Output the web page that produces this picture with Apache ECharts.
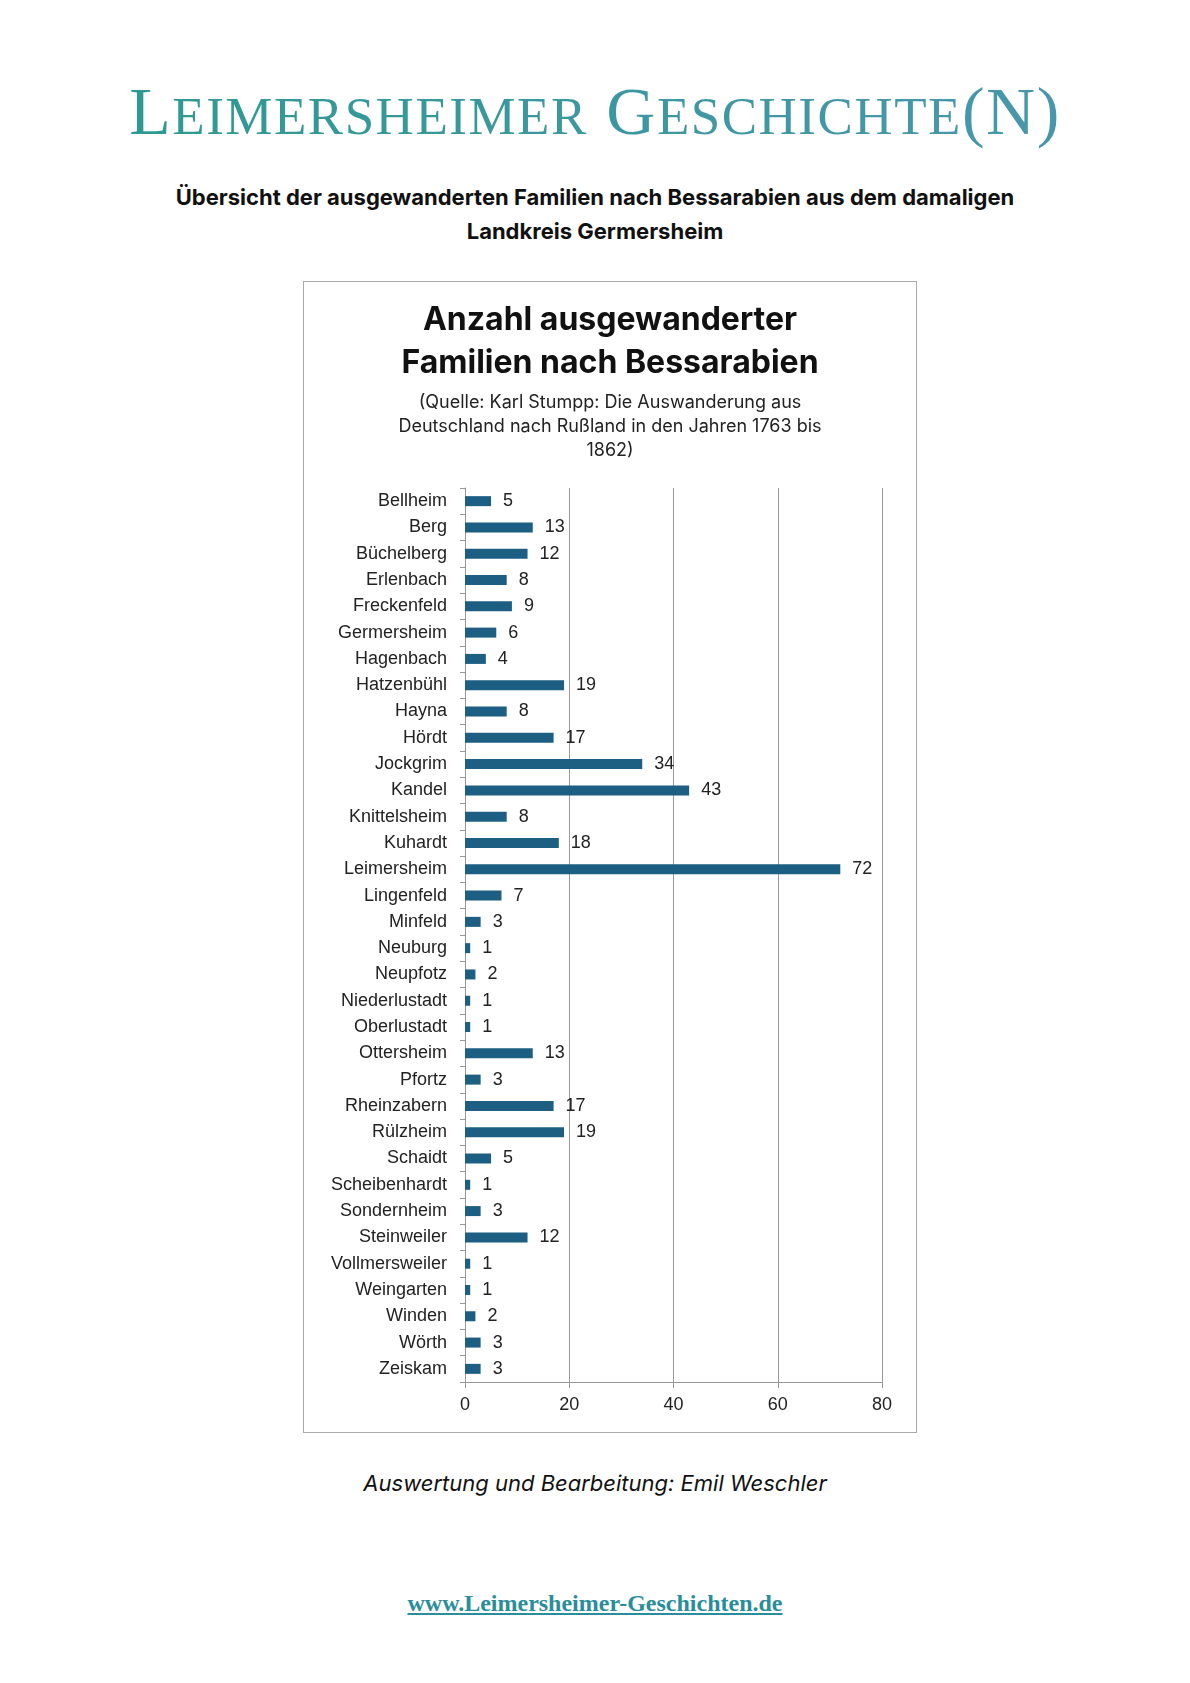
<!DOCTYPE html>
<html><head><meta charset="utf-8">
<script src="https://cdn.jsdelivr.net/npm/echarts@6/dist/echarts.min.js"></script>
<style>
body{margin:0;width:1190px;height:1683px;background:#fff;position:relative;font-family:Inter,"Noto Sans",sans-serif}
.hdr{position:absolute;top:72px;left:0;width:1190px;text-align:center;font-family:"Liberation Serif",serif;font-size:68px;letter-spacing:1.5px;
background:linear-gradient(90deg,#2a9a8e,#4c96b0);-webkit-background-clip:text;color:transparent}
.hdr span{font-size:53px}
.sub{position:absolute;top:180px;left:0;width:1190px;text-align:center;font-weight:bold;font-size:22px;line-height:34px;color:#111}
#chart{position:absolute;left:303px;top:281px;width:614px;height:1152px;border:1px solid #aaa;box-sizing:border-box}
.foot{position:absolute;top:1470px;left:0;width:1190px;text-align:center;font-style:italic;font-size:22px;color:#111}
.url{position:absolute;top:1590px;left:0;width:1190px;text-align:center;font-family:"Liberation Serif",serif;font-weight:bold;font-size:24px;color:#2a8d9a;text-decoration:underline}
</style></head><body>
<div class="hdr">L<span>EIMERSHEIMER</span> G<span>ESCHICHTE</span>(N)</div>
<div class="sub">Übersicht der ausgewanderten Familien nach Bessarabien aus dem damaligen<br>Landkreis Germersheim</div>
<div id="chart"></div>
<div class="foot">Auswertung und Bearbeitung: Emil Weschler</div>
<div class="url">www.Leimersheimer-Geschichten.de</div>
<script>
const places = ['Bellheim','Berg','Büchelberg','Erlenbach','Freckenfeld','Germersheim','Hagenbach','Hatzenbühl','Hayna','Hördt','Jockgrim','Kandel','Knittelsheim','Kuhardt','Leimersheim','Lingenfeld','Minfeld','Neuburg','Neupfotz','Niederlustadt','Oberlustadt','Ottersheim','Pfortz','Rheinzabern','Rülzheim','Schaidt','Scheibenhardt','Sondernheim','Steinweiler','Vollmersweiler','Weingarten','Winden','Wörth','Zeiskam'];
const families = [5,13,12,8,9,6,4,19,8,17,34,43,8,18,72,7,3,1,2,1,1,13,3,17,19,5,1,3,12,1,1,2,3,3];
const xTicks = [0,20,40,60,80];

const chart = echarts.init(document.getElementById('chart'));
chart.setOption({
  animation:false,
  title:{
    text:'Anzahl ausgewanderter\nFamilien nach Bessarabien',
    subtext:'(Quelle: Karl Stumpp: Die Auswanderung aus\nDeutschland nach Rußland in den Jahren 1763 bis\n1862)',
    left:'center', top:12, itemGap:6,
    textStyle:{fontSize:32,fontWeight:'bold',color:'#111',lineHeight:43,fontFamily:'Inter'},
    subtextStyle:{fontSize:18,color:'#222',lineHeight:24,fontFamily:'Inter'}
  },
  grid:{left:161,right:34,top:206,bottom:50},
  xAxis:{type:'value',min:xTicks[0],max:xTicks[xTicks.length-1],interval:20,
    axisLine:{show:true,lineStyle:{color:'#999'}},axisTick:{show:true,length:6,lineStyle:{color:'#999'}},
    axisLabel:{fontSize:18,color:'#222',margin:14},
    splitLine:{lineStyle:{color:'#999'}}},
  yAxis:{type:'category',data:places,inverse:true,
    axisLine:{lineStyle:{color:'#999'}},axisTick:{show:true,length:5,lineStyle:{color:'#999'}},
    axisLabel:{fontSize:18,color:'#222',margin:18}},
  series:[{type:'bar',data:families,barWidth:10,itemStyle:{color:'#1c5f82'},
    label:{show:true,position:'right',distance:12,fontSize:18,color:'#222'}}]
});
</script></body></html>
